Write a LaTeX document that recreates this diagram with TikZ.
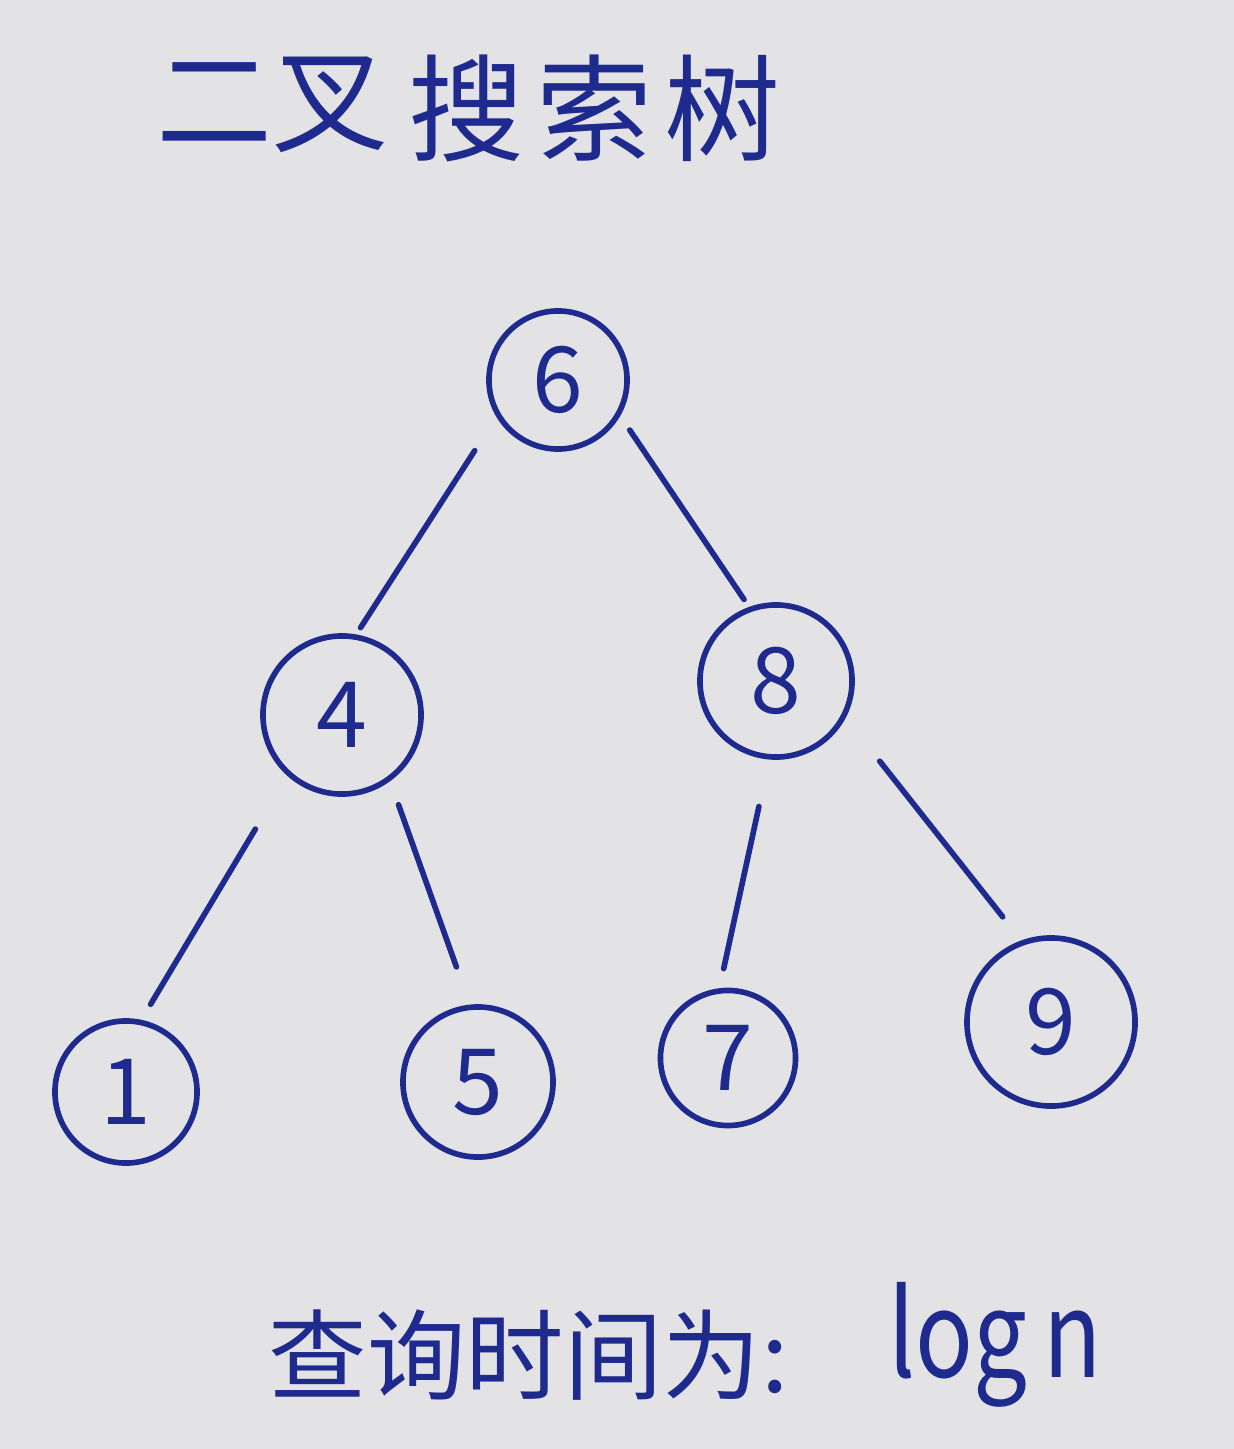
\documentclass[tikz,border=0pt]{standalone}
\usepackage{fontspec}
\setmainfont{Noto Sans CJK SC}
\definecolor{paper}{HTML}{E3E3E6}
\definecolor{ink}{HTML}{1E2A8E}
\begin{document}
\begin{tikzpicture}[x=0.01cm,y=-0.01cm,
  bnode/.style={circle,draw=ink,line width=1.6pt,inner sep=0pt,text=ink,font=\fontsize{26}{30}\selectfont},
  edge/.style={draw=ink,line width=1.6pt,line cap=round},
  lbl/.style={text=ink,inner sep=0pt}]
\fill[paper] (0,0) rectangle (1234,1449);
\useasboundingbox (0,0) rectangle (1234,1449);
% title
\node[lbl,anchor=west,font=\fontsize{33}{36}\selectfont] (t1) at (156,105) {二叉};
\node[lbl,anchor=west,font=\fontsize{33}{36}\selectfont] (t2) at (408,108) {搜\hspace{0.1em}索\hspace{0.1em}树};
% nodes
\node[bnode,minimum size=1.38cm] (n6) at (558,380) {6};
\node[bnode,minimum size=1.58cm] (n4) at (342,715) {4};
\node[bnode,minimum size=1.52cm] (n8) at (776,681) {8};
\node[bnode,minimum size=1.42cm] (n1) at (126,1092) {1};
\node[bnode,minimum size=1.50cm] (n5) at (478,1082) {5};
\node[bnode,minimum size=1.35cm] (n7) at (728,1058) {7};
\node[bnode,minimum size=1.68cm] (n9) at (1051,1022) {9};
% edges
\draw[edge,shorten <=0.40cm,shorten >=0.08cm] (n6.211) -- (n4.80);
\draw[edge,shorten <=0.17cm,shorten >=0.09cm] (n6.330) -- (n8.110);
\draw[edge,shorten <=0.62cm,shorten >=0.18cm] (n4.228) -- (n1.78);
\draw[edge,shorten <=0.25cm,shorten >=0.40cm] (n4.306) -- (n5.96);
\draw[edge,shorten <=0.48cm,shorten >=0.20cm] (n8.265) -- (n7.97);
\draw[edge,shorten <=0.55cm,shorten >=0.30cm] (n8.332) -- (n9.110);
% bottom text
\node[lbl,anchor=west,font=\fontsize{28}{32}\selectfont] (b1) at (268,1355) {查询时间为:};
\node[lbl,anchor=west,font=\fontsize{34}{38}\selectfont] (b2) at (888,1345) {\scalebox{0.8}[1]{log\,n}};
\end{tikzpicture}
\end{document}
